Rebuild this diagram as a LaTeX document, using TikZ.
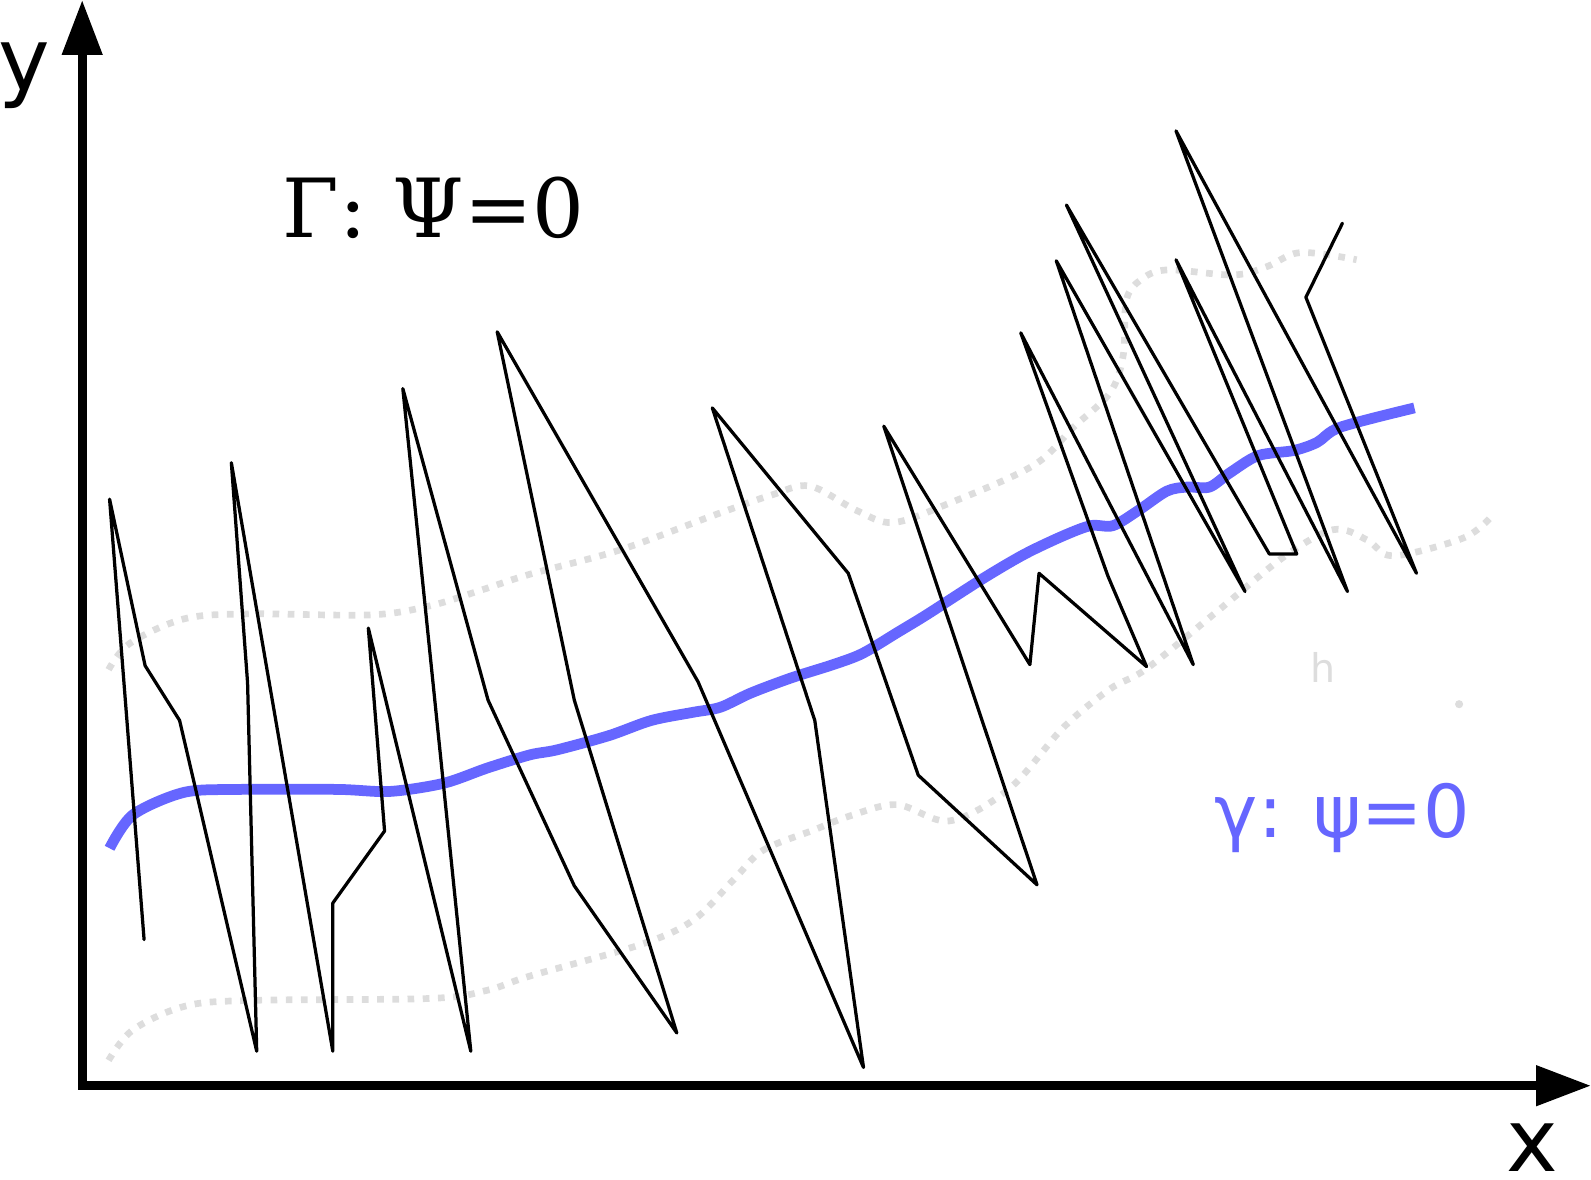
\documentclass[tikz,border=0pt]{standalone}
\usepackage{fontspec}
\setmainfont{DejaVu Serif}
\setsansfont{DejaVu Sans}
\usetikzlibrary{arrows.meta}
\definecolor{curveblue}{HTML}{6666FF}
\definecolor{guidegray}{HTML}{DDDDDD}
\tikzset{
  axisline/.style={line width=4.3pt, {Triangle[length=27pt,width=19pt]}-{Triangle[length=27pt,width=19pt]}},
  zigzag/.style={line width=1.6pt, line join=round, line cap=round, black},
  gammacurve/.style={line width=5.3pt, curveblue},
  bandline/.style={line width=3.3pt, guidegray, dash pattern=on 3.3pt off 4.2pt},
  axislabel/.style={inner sep=0pt, anchor=base west, font=\sffamily\fontsize{43pt}{43pt}\selectfont},
}
\begin{document}
\begin{tikzpicture}[x=0.5pt,y=-0.5pt]
\useasboundingbox (0,0) rectangle (1568,1162);

% dotted band curves
\draw[bandline] plot[smooth, tension=0.55] coordinates {(107,660) (128,634) (181,610) (243,605) (365,606) (424,597) (476,581) (522,566) (611,542) (703,508) (760,488) (798,479) (844,503) (880,515) (933,497) (1018,459) (1058,421) (1094,387) (1107,350) (1110,296) (1124,276) (1150,266) (1215,271) (1248,263) (1275,250) (1301,250) (1337,256)};
\draw[bandline] plot[smooth, tension=0.55] coordinates {(107,1045) (131,1015) (181,992) (243,986) (424,984) (480,976) (522,962) (631,931) (683,907) (723,867) (752,838) (802,818) (838,804) (884,793) (936,809) (995,777) (1048,717) (1094,679) (1130,659) (1199,603) (1265,549) (1314,522) (1347,532) (1367,547) (1396,544) (1445,529) (1468,511)};

% blue curve gamma
\draw[gammacurve] plot[smooth, tension=0.5] coordinates {(108,836) (131,803) (181,781) (235,778) (333,778) (384,780) (437,772) (480,757) (522,744) (549,739) (600,725) (642,710) (683,702) (710,697) (740,683) (780,668) (821,655) (850,644) (885,623) (913,606) (969,570) (1010,546) (1048,528) (1075,518) (1097,518) (1122,503) (1150,484) (1170,480) (1192,480) (1212,466) (1240,449) (1275,444) (1298,436) (1321,421) (1394,402)};

% black zigzag Gamma
\draw[zigzag] (142,926) -- (108,492) -- (143,656) -- (177,710) -- (253,1036) -- (244,673) -- (228,456) -- (328,1036) -- (328,890) -- (379,819) -- (363,619) -- (464,1036) -- (397,383) -- (481,690) -- (566,873) -- (667,1018) -- (566,690) -- (490,327) -- (688,672) -- (851,1052) -- (803,710) -- (702,402) -- (836,565) -- (905,764) -- (1022,872) -- (871,420) -- (1015,655) -- (1024,565) -- (1130,657) -- (1092,568) -- (1006,328) -- (1176,655) -- (1041,257) -- (1227,583) -- (1051,202) -- (1251,546) -- (1278,546) -- (1159,256) -- (1328,583) -- (1159,129) -- (1396,565) -- (1287,293) -- (1323,220);

% axes
\coordinate (ytip) at (81,0);
\coordinate (origin) at (81,1070);
\coordinate (xtip) at (1568,1070);
\draw[axisline] (ytip) -- (origin) -- (xtip);

% labels
\node[axislabel] (ylab) at (-2,89) {y};
\node[axislabel] (xlab) at (1484,1155) {x};
\node[inner sep=0pt, anchor=base west, font=\fontsize{40.2pt}{40.2pt}\selectfont] (biglab) at (278,234) {Γ: Ψ=0};
\node[inner sep=0pt, anchor=base west, text=curveblue, font=\sffamily\fontsize{36pt}{36pt}\selectfont] (smalllab) at (1197,825) {γ: ψ=0};
\node[inner sep=0pt, anchor=base, text=guidegray, font=\sffamily\fontsize{19.5pt}{19.5pt}\selectfont] (hlab) at (1304,673) {h};
\fill[guidegray] (1438,694) circle[radius=4];
\end{tikzpicture}
\end{document}
